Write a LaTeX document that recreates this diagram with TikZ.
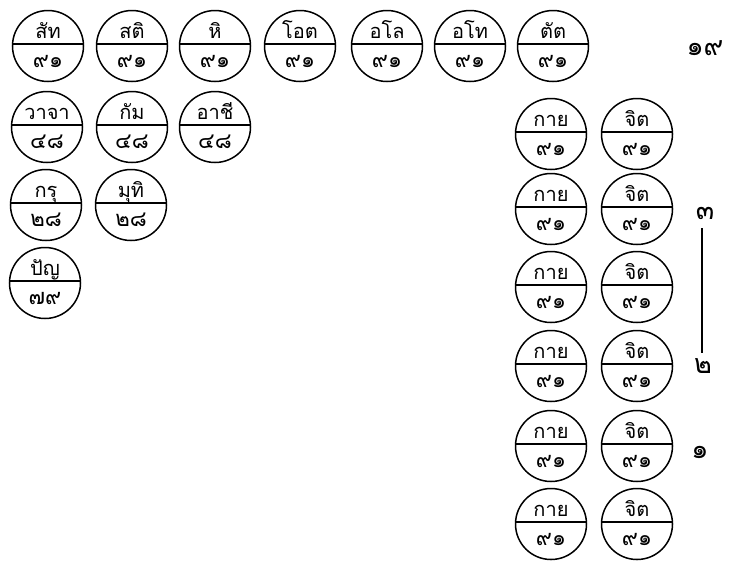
\documentclass[tikz,border=0pt]{standalone}
\usepackage{fontspec}
\newfontfamily\thaifont[Script=Thai]{Loma}
\tikzset{
  cell/.style={circle, draw, line width=1.5pt, minimum size=71pt, inner sep=0pt},
  divider/.style={line width=1.4pt},
  toptext/.style={anchor=base, inner sep=0pt, font=\thaifont\fontsize{20}{20}\selectfont},
  bottext/.style={anchor=base, inner sep=0pt, font=\thaifont\fontsize{22}{22}\selectfont},
  sidetext/.style={inner sep=0pt, font=\thaifont\fontsize{27}{27}\selectfont},
}
\newcommand{\mycell}[5]{%
  \node[cell] (#1) at (#2,#3) {};
  \draw[divider] ([yshift=2pt]#1.west) -- ([yshift=2pt]#1.east);
  \node[toptext] (#1-t) at ([yshift=8pt]#1.center) {#4};
  \node[bottext] (#1-b) at ([yshift=-21pt]#1.center) {#5};
}
\begin{document}
\begin{tikzpicture}[x=1pt,y=-1pt]
\useasboundingbox (0,0) rectangle (735,560);
% top row
\mycell{sat}{48}{46}{สัท}{๙๑}
\mycell{sati}{132}{46}{สติ}{๙๑}
\mycell{hi}{215}{46}{หิ}{๙๑}
\mycell{ot}{300}{46}{โอต}{๙๑}
\mycell{alo}{387}{46}{อโล}{๙๑}
\mycell{atho}{470}{46}{อโท}{๙๑}
\mycell{tat}{553}{46}{ตัต}{๙๑}
% left rows
\mycell{vaca}{47}{127}{วาจา}{๔๘}
\mycell{kam}{132}{127}{กัม}{๔๘}
\mycell{achi}{215}{127}{อาชี}{๔๘}
\mycell{karu}{46}{205}{กรุ}{๒๘}
\mycell{mudi}{131}{205}{มุทิ}{๒๘}
\mycell{pan}{45}{283}{ปัญ}{๗๙}
% right columns
\mycell{kaya1}{551}{134}{กาย}{๙๑}
\mycell{cit1}{637}{134}{จิต}{๙๑}
\mycell{kaya2}{551}{209}{กาย}{๙๑}
\mycell{cit2}{637}{209}{จิต}{๙๑}
\mycell{kaya3}{551}{287}{กาย}{๙๑}
\mycell{cit3}{637}{287}{จิต}{๙๑}
\mycell{kaya4}{551}{366}{กาย}{๙๑}
\mycell{cit4}{637}{366}{จิต}{๙๑}
\mycell{kaya5}{551}{446}{กาย}{๙๑}
\mycell{cit5}{637}{446}{จิต}{๙๑}
\mycell{kaya6}{551}{524}{กาย}{๙๑}
\mycell{cit6}{637}{524}{จิต}{๙๑}
% side labels
\node[sidetext] (n19) at (705,48) {๑๙};
\node[sidetext] (n3) at (705,213) {๓};
\node[sidetext] (n2) at (703,366) {๒};
\node[sidetext] (n1) at (700,452) {๑};
\coordinate (ltop) at (702,228);
\coordinate (lbot) at (702,353);
\draw[line width=2pt] (ltop) -- (lbot);
\end{tikzpicture}
\end{document}
